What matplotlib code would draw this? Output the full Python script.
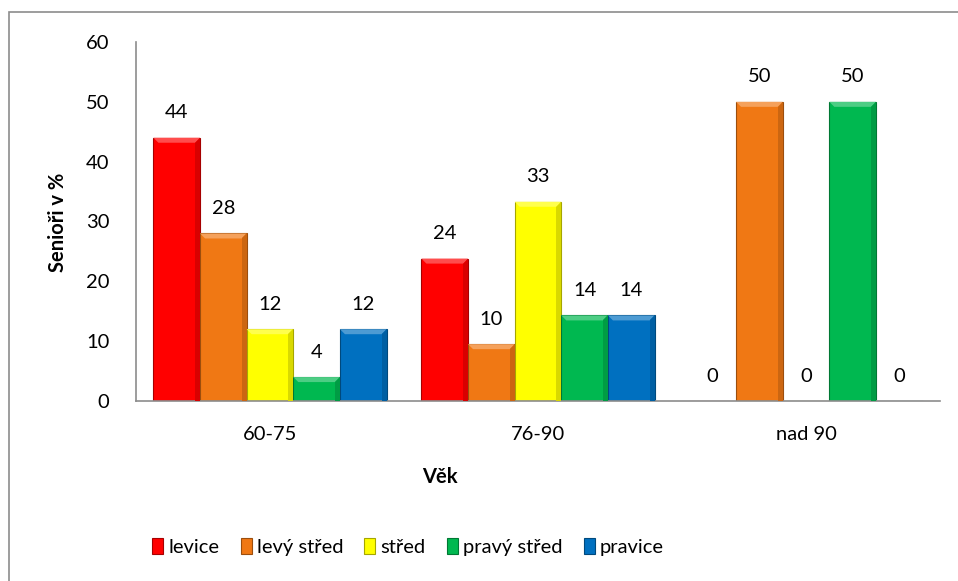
import numpy as np
import matplotlib
matplotlib.use('Agg')
import matplotlib.pyplot as plt
from matplotlib.patches import Polygon, Rectangle
from matplotlib.colors import to_rgb

plt.rcParams['font.family'] = ['Lato', 'DejaVu Sans']

categories = ['60-75', '76-90', 'nad 90']
series = ['levice', 'levý střed', 'střed', 'pravý střed', 'pravice']
values = [
    [44, 28, 12, 4, 12],
    [23.8, 9.5, 33.3, 14.3, 14.3],
    [0, 50, 0, 50, 0],
]
colors = ['#FF0000', '#F07814', '#FFFF00', '#00B850', '#0070C0']

W, H = 958, 581
fs = 14.5
fig = plt.figure(figsize=(W / 100, H / 100), dpi=100)
ax_l, ax_r, ax_t, ax_b = 136, 940, 42, 401
ax = fig.add_axes([ax_l / W, 1 - ax_b / H, (ax_r - ax_l) / W, (ax_b - ax_t) / H])

# outer chart border (cropped at right/bottom in the original)
fig.patches.append(Rectangle((9 / W, -0.1), 1.2, 1 - 12 / H + 0.1, transform=fig.transFigure,
                             fill=False, edgecolor='#8c8c8c', linewidth=1.2))

n = len(series)
bw = 0.174
x = np.arange(len(categories))
px_x = (ax_r - ax_l) / 3.0
px_y = (ax_b - ax_t) / 60.0
bev = 5

def shade(c, f):
    r, g, b = to_rgb(c)
    if f > 0:
        return (r + (1 - r) * f, g + (1 - g) * f, b + (1 - b) * f)
    return (r * (1 + f), g * (1 + f), b * (1 + f))

vals = np.array(values)
for i, name in enumerate(series):
    xs = x + (i - (n - 1) / 2) * bw
    bars = ax.bar(xs, vals[:, i], bw, color=colors[i], edgecolor=shade(colors[i], -0.35),
                  linewidth=0.8, label=name, zorder=2)
    for b, v in zip(bars, vals[:, i]):
        if v > 0:
            x0, x1 = b.get_x(), b.get_x() + b.get_width()
            dx = bev / px_x
            dy = min(bev / px_y, v / 2)
            ax.add_patch(Polygon([(x0, v), (x1, v), (x1 - dx, v - dy), (x0 + dx, v - dy)],
                                 closed=True, facecolor=shade(colors[i], 0.3), edgecolor='none', zorder=3))
            ax.add_patch(Polygon([(x1, v), (x1, 0), (x1 - dx, 0), (x1 - dx, v - dy)],
                                 closed=True, facecolor=shade(colors[i], -0.15), edgecolor='none', zorder=3))
        ax.annotate('{:.0f}'.format(v), (b.get_x() + b.get_width() / 2, v),
                    xytext=(0, 18), textcoords='offset points', ha='center', va='center',
                    fontsize=fs, color='black')

ax.set_xlim(-0.5, 2.5)
ax.set_ylim(0, 60)
ax.set_yticks(range(0, 61, 10))
ax.set_xticks(x)
ax.set_xticklabels(categories)
ax.tick_params(axis='y', length=0, pad=19, labelsize=fs)
ax.tick_params(axis='x', length=0, pad=18, labelsize=fs)
for s in ['top', 'right']:
    ax.spines[s].set_visible(False)
for s in ['left', 'bottom']:
    ax.spines[s].set_color('#8c8c8c')
    ax.spines[s].set_linewidth(1.2)

fig.text(440 / W, 1 - 477 / H, 'Věk', ha='center', va='center', fontsize=fs, fontweight='bold')
fig.text(58 / W, 1 - 222 / H, 'Senioři v %', ha='center', va='center', rotation=90,
         fontsize=fs, fontweight='bold')

handles, labels = ax.get_legend_handles_labels()
fig.legend(handles, labels, loc='center', bbox_to_anchor=(408 / W, 1 - 547 / H), ncol=5,
           frameon=False, fontsize=fs, handlelength=0.55, handleheight=0.8,
           handletextpad=0.25, columnspacing=1.05)

fig.savefig('out.png', dpi=100)
